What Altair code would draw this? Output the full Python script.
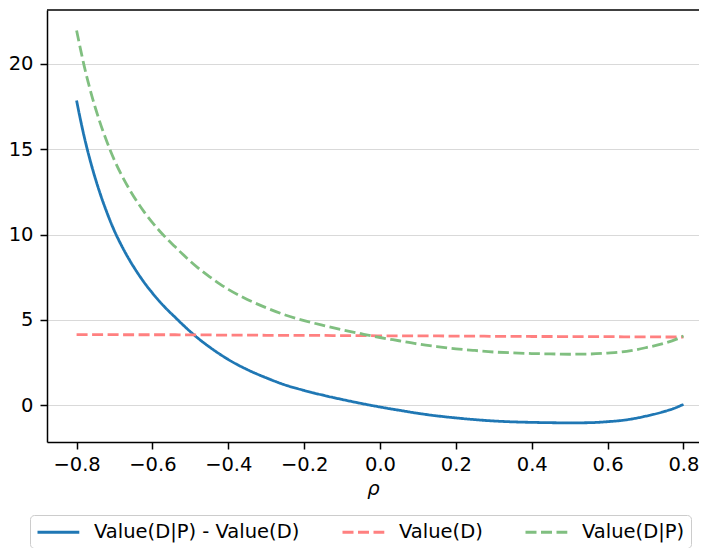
import altair as alt
import pandas as pd

# --- data ---
rho = [-0.80, -0.79, -0.78, -0.77, -0.76, -0.75, -0.74, -0.73, -0.72, -0.71, -0.70,
       -0.68, -0.66, -0.64, -0.62, -0.60, -0.58, -0.56, -0.54, -0.52, -0.50, -0.48,
       -0.45, -0.42, -0.40, -0.35, -0.30, -0.25, -0.20, -0.15, -0.10, -0.05,
       0.00, 0.05, 0.10, 0.15, 0.20, 0.25, 0.30, 0.35, 0.40, 0.45,
       0.50, 0.55, 0.60, 0.65, 0.70, 0.75,
       0.78, 0.80]

diff_vals = [17.85, 16.75, 15.74, 14.83, 14.00, 13.24, 12.54, 11.89, 11.29, 10.72, 10.20,
             9.29, 8.49, 7.78, 7.14, 6.57, 6.05, 5.58, 5.15, 4.72, 4.31, 3.93,
             3.42, 2.96, 2.68, 2.09, 1.61, 1.19, 0.87, 0.59, 0.34, 0.11,
             -0.10, -0.29, -0.47, -0.62, -0.74, -0.84, -0.92, -0.97, -1.00, -1.02,
             -1.03, -1.02, -0.96, -0.85, -0.64, -0.36,
             -0.14, 0.06]

value_d = [4.14, 4.14, 4.14, 4.14, 4.14, 4.14, 4.14, 4.14, 4.14, 4.14, 4.14,
           4.13, 4.13, 4.13, 4.13, 4.13, 4.13, 4.13, 4.13, 4.12, 4.12, 4.12,
           4.12, 4.11, 4.11, 4.11, 4.10, 4.10, 4.09, 4.09, 4.08, 4.08,
           4.07, 4.07, 4.06, 4.06, 4.05, 4.05, 4.04, 4.04, 4.03, 4.03,
           4.02, 4.02, 4.02, 4.01, 4.01, 4.00,
           4.00, 4.00]

value_dp = [21.95, 20.89, 19.88, 18.97, 18.14, 17.38, 16.68, 16.03, 15.43, 14.86, 14.34,
            13.42, 12.62, 11.91, 11.27, 10.70, 10.18, 9.71, 9.28, 8.84, 8.43, 8.05,
            7.54, 7.07, 6.79, 6.20, 5.71, 5.29, 4.96, 4.68, 4.42, 4.19,
            3.97, 3.78, 3.59, 3.44, 3.31, 3.21, 3.12, 3.07, 3.03, 3.01,
            2.99, 3.00, 3.06, 3.16, 3.37, 3.64,
            3.86, 4.06]

S1 = "Value(D|P) - Value(D)"
S2 = "Value(D)"
S3 = "Value(D|P)"
series = [S1, S2, S3]
colors = ["#1f77b4", "#ff8080", "#80bf80"]
dashes = [[1, 0], [11, 4.5], [11, 4.5]]

x_ticks = [-0.8, -0.6, -0.4, -0.2, 0.0, 0.2, 0.4, 0.6, 0.8]
y_ticks = [0, 5, 10, 15, 20]
x_domain = [-0.878, 0.841]
y_domain = [-2.15, 23.15]

rows = []
for name, vals in [(S1, diff_vals), (S2, value_d), (S3, value_dp)]:
    for r, v in zip(rho, vals):
        rows.append({"rho": r, "value": v, "series": name})
df = pd.DataFrame(rows)

FONT = "DejaVu Sans"
FS = 19.5

x_enc = alt.X(
    "rho:Q",
    scale=alt.Scale(domain=x_domain, nice=False, zero=False),
    axis=alt.Axis(
        values=x_ticks, format=".1f", grid=False, title="ρ",
        titleFontStyle="italic", titleFontWeight="normal", titleFontSize=FS,
        titleColor="black", titlePadding=6, labelFontSize=FS, labelColor="black",
        labelPadding=6, tickSize=7, tickWidth=1.5, tickColor="black",
        domainColor="black", domainWidth=1.5, labelFlush=False,
    ),
)
y_enc = alt.Y(
    "value:Q",
    scale=alt.Scale(domain=y_domain, nice=False, zero=False),
    axis=alt.Axis(
        values=y_ticks, format="d", grid=True, gridColor="#d9d9d9",
        gridWidth=1.2, title=None, labelFontSize=FS, labelColor="black",
        labelPadding=7, tickSize=7, tickWidth=1.5, tickColor="black",
        domainColor="black", domainWidth=1.5, labelFlush=False,
    ),
)

legend = alt.Legend(
    title=None, orient="none", legendX=-17, legendY=505,
    direction="horizontal", columns=3, symbolType="M-1,0L3.4,0",
    symbolSize=361, symbolStrokeWidth=3, labelFontSize=FS, labelFont=FONT,
    labelColor="black", labelOffset=36, columnPadding=36, padding=6,
    strokeColor="#cccccc", fillColor="white", cornerRadius=4, labelLimit=400,
)

lines = alt.Chart(df).mark_line(strokeWidth=2.8, interpolate="monotone").encode(
    x=x_enc,
    y=y_enc,
    color=alt.Color("series:N", scale=alt.Scale(domain=series, range=colors),
                    legend=legend),
    strokeDash=alt.StrokeDash("series:N",
                              scale=alt.Scale(domain=series, range=dashes),
                              legend=legend),
)

top_border = alt.Chart(pd.DataFrame({"k": [0]})).mark_rule(
    color="black", strokeWidth=1.5
).encode(
    x=alt.datum(x_domain[0]),
    x2=alt.datum(x_domain[1]),
    y=alt.datum(y_domain[1]),
)

chart = alt.layer(lines, top_border).properties(
    width=652,
    height=432,
    autosize=alt.AutoSizeParams(type="none"),
    padding={"left": 39, "top": 2, "right": 0, "bottom": 106},
).configure(
    font=FONT,
).configure_view(
    stroke=None,
)

chart.save("out.html", embed_options={"renderer": "svg", "actions": False})
